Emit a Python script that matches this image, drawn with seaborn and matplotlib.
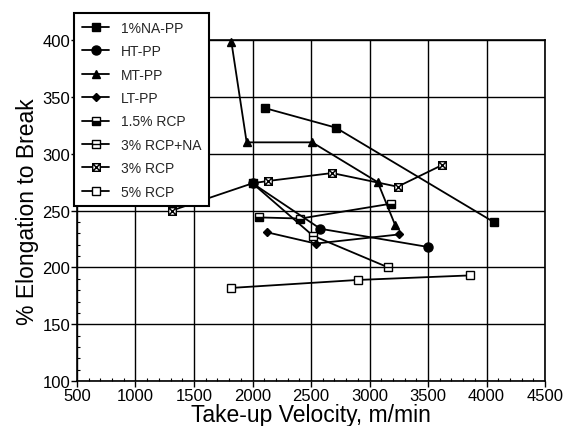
import matplotlib
matplotlib.use("Agg")
import matplotlib.pyplot as plt
from matplotlib.path import Path
from matplotlib.ticker import MultipleLocator
import seaborn as sns
import pandas as pd

# Take-up velocity (m/min) and elongation to break (%) for each resin
na_pp_x = [2110, 2710, 4060]
na_pp_y = [340, 323, 240]
ht_pp_x = [2000, 2580, 3500]
ht_pp_y = [274, 234, 218]
mt_pp_x = [1820, 1950, 2510, 3070, 3220]
mt_pp_y = [398, 310, 310, 275, 237]
lt_pp_x = [2120, 2540, 3250]
lt_pp_y = [231, 221, 229]
rcp15_x = [2055, 2410, 3180]
rcp15_y = [244, 243, 256]
rcp3na_x = [2000, 2515, 3160]
rcp3na_y = [274, 228, 200]
rcp3_x = [1310, 2000, 2130, 2680, 3240, 3620]
rcp3_y = [250, 274, 276, 283, 271, 290]
rcp5_x = [1820, 2900, 3860]
rcp5_y = [182, 189, 193]

labels = ["1%NA-PP", "HT-PP", "MT-PP", "LT-PP",
          "1.5% RCP", "3% RCP+NA", "3% RCP", "5% RCP"]
xs = [na_pp_x, ht_pp_x, mt_pp_x, lt_pp_x, rcp15_x, rcp3na_x, rcp3_x, rcp5_x]
ys = [na_pp_y, ht_pp_y, mt_pp_y, lt_pp_y, rcp15_y, rcp3na_y, rcp3_y, rcp5_y]

# custom square markers
M, L, C = Path.MOVETO, Path.LINETO, Path.CLOSEPOLY
sq_x = Path([(-1, -1), (1, -1), (1, 1), (-1, 1), (-1, -1),
             (-1, -1), (1, 1), (-1, 1), (1, -1)],
            [M, L, L, L, C, M, L, M, L])
sq_bar = Path([(-1, -1), (1, -1), (1, 1), (-1, 1), (-1, -1),
               (-1, 0), (1, 0)],
              [M, L, L, L, C, M, L])

styles = [
    dict(marker="s", markersize=5.8, mfc="black"),
    dict(marker="o", markersize=6.5, mfc="black"),
    dict(marker="^", markersize=6.2, mfc="black"),
    dict(marker="D", markersize=4.2, mfc="black"),
    dict(marker="s", markersize=5.5, mfc="black", fillstyle="bottom",
         markerfacecoloralt="white"),
    dict(marker=sq_bar, markersize=5.5, mfc="white"),
    dict(marker=sq_x, markersize=5.5, mfc="white"),
    dict(marker="s", markersize=5.5, mfc="white"),
]
zorders = [4, 6, 4, 4, 4, 3, 3, 4]

sns.set_theme(style="white")
plt.rcParams["font.family"] = ["Liberation Sans", "DejaVu Sans"]

fig = plt.figure(figsize=(5.66, 4.27), dpi=100)
ax = fig.add_axes([0.136, 0.105, 0.827, 0.799])

handles = []
for lab, x, y, st, z in zip(labels, xs, ys, styles, zorders):
    df = pd.DataFrame({"v": x, "e": y})
    n_before = len(ax.lines)
    sns.lineplot(data=df, x="v", y="e", ax=ax, color="black", linewidth=1.3,
                 errorbar=None, markeredgecolor="black", markeredgewidth=1.0,
                 clip_on=False, zorder=z, **st)
    handles.append(ax.lines[n_before])

ax.set_xlim(500, 4500)
ax.set_ylim(100, 400)
ax.xaxis.set_major_locator(MultipleLocator(500))
ax.xaxis.set_minor_locator(MultipleLocator(100))
ax.yaxis.set_major_locator(MultipleLocator(50))
ax.yaxis.set_minor_locator(MultipleLocator(10))
ax.grid(True, which="major", color="black", linewidth=1.0)
ax.set_axisbelow(True)
for s in ax.spines.values():
    s.set_color("black")
    s.set_linewidth(1.2)
ax.tick_params(which="major", direction="out", length=4, width=1,
               colors="black", labelsize=12, pad=1,
               bottom=True, left=True)
ax.tick_params(which="minor", direction="in", length=2.5, width=0.8,
               colors="black", bottom=True, left=True)

ax.set_xlabel("Take-up Velocity, m/min", fontsize=16.5, color="black", labelpad=0)
ax.set_ylabel("% Elongation to Break", fontsize=16.5, color="black", labelpad=2)

leg = fig.legend(handles=handles, labels=labels, loc="upper left",
                 bbox_to_anchor=(74 / 566, 1 - 14 / 427),
                 fontsize=10, frameon=True, fancybox=False,
                 handlelength=2.0, handletextpad=0.8, labelspacing=0.68,
                 borderpad=0.55, borderaxespad=0)
leg.get_frame().set_edgecolor("black")
leg.get_frame().set_linewidth(1.5)
leg.get_frame().set_facecolor("white")
leg.get_frame().set_alpha(1)
leg.set_zorder(10)

fig.savefig("out.png", dpi=100)
